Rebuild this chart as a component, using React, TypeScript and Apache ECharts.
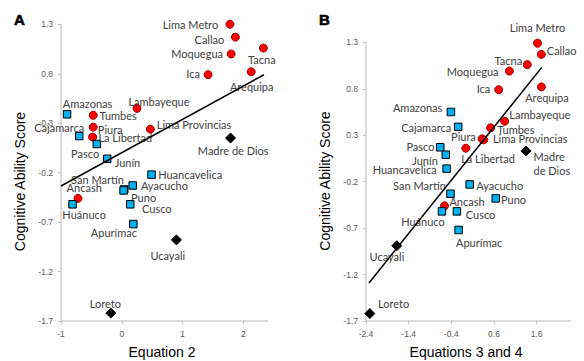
import React, { useEffect, useRef } from "react";
import * as echarts from "echarts";

// ---------- Panel A (Equation 2) ----------
const circleNamesA = ["Lima Metro", "Callao", "Moquegua", "Tacna", "Ica", "Arequipa", "Lambayeque", "Tumbes", "Piura", "La Libertad", "Lima Provincias", "Ancash"];
const circleXA = [1.78, 1.87, 1.8, 2.33, 1.42, 2.13, 0.25, -0.47, -0.47, -0.48, 0.47, -0.72];
const circleYA = [1.3, 1.17, 1.0, 1.06, 0.79, 0.82, 0.45, 0.38, 0.26, 0.16, 0.24, -0.46];

const squareNamesA = ["Amazonas", "Cajamarca", "Pasco", "Junín", "Huancavelica", "Ayacucho", "San Martín", "Puno", "Cusco", "Apurímac", "Huánuco"];
const squareXA = [-0.9, -0.7, -0.41, -0.24, 0.49, 0.18, 0.04, 0.03, 0.14, 0.19, -0.81];
const squareYA = [0.39, 0.17, 0.09, -0.06, -0.22, -0.33, -0.37, -0.38, -0.52, -0.72, -0.52];

const diamondNamesA = ["Madre de Dios", "Ucayali", "Loreto"];
const diamondXA = [1.79, 0.9, -0.18];
const diamondYA = [0.15, -0.88, -1.62];

const trendXA = [-1.0, 2.34];
const trendYA = [-0.335, 0.79];

// ---------- Panel B (Equations 3 and 4) ----------
const circleNamesB = ["Lima Metro", "Callao", "Tacna", "Moquegua", "Ica", "Arequipa", "Lambayeque", "Tumbes", "Piura", "Lima Provincias", "La Libertad", "Ancash"];
const circleXB = [1.62, 1.71, 1.38, 0.96, 0.71, 1.71, 0.85, 0.52, 0.32, 0.36, -0.06, -0.56];
const circleYB = [1.29, 1.17, 1.06, 0.99, 0.79, 0.82, 0.45, 0.38, 0.26, 0.25, 0.16, -0.46];

const squareNamesB = ["Amazonas", "Cajamarca", "Pasco", "Junín", "Huancavelica", "San Martín", "Ayacucho", "Puno", "Huánuco", "Cusco", "Apurímac"];
const squareXB = [-0.41, -0.24, -0.66, -0.53, -0.51, -0.42, 0.03, 0.64, -0.62, -0.27, -0.23];
const squareYB = [0.55, 0.39, 0.17, 0.09, -0.06, -0.33, -0.23, -0.38, -0.52, -0.52, -0.72];

const diamondNamesB = ["Madre de Dios", "Ucayali", "Loreto"];
const diamondXB = [1.35, -1.68, -2.31];
const diamondYB = [0.13, -0.89, -1.62];

const trendXB = [-2.33, 1.72];
const trendYB = [-1.29, 1.03];

// ---------- Tick labels ----------
const yTicks = [-1.7, -1.2, -0.7, -0.2, 0.3, 0.8, 1.3];
const xTicksA = [-1, 0, 1, 2];
const xTicksB = [-2.4, -1.4, -0.4, 0.6, 1.6];

// ---------- Label placement (pixel offsets from marker centre) ----------
const labelOffsetA: Record<string, [number, number]> = {
  "Lima Metro": [-39.5, 0], Callao: [-26, 2], Moquegua: [-34, 0], Tacna: [-1.5, 11], Ica: [-15, -1],
  Arequipa: [0.5, 15], Lambayeque: [22, -7], Tumbes: [25, 0.7], Piura: [17, 2.7], "La Libertad": [32.7, 0.6],
  "Lima Provincias": [43.7, -4.3], Ancash: [6.2, -10.4], Amazonas: [20.5, -10.6], Cajamarca: [-20, -8.6],
  Pasco: [-11.7, 9.7], "Junín": [20.3, 3.7], Huancavelica: [38.6, 0.3], Ayacucho: [31.7, 0.3],
  "San Martín": [-26.7, -9.5], Puno: [20, 7], Cusco: [26.5, 4.7], "Apurímac": [-19.4, 8], "Huánuco": [11.6, 10.7],
  "Madre de Dios": [2.7, 12.3], Ucayali: [-8.7, 15.4], Loreto: [-5.5, -9.7],
};
const labelOffsetB: Record<string, [number, number]> = {
  "Lima Metro": [0, -15.3], Callao: [20.3, -3.7], Tacna: [-18.9, -4.4], Moquegua: [-36.7, 0], Ica: [-15.2, -1.3],
  Arequipa: [5.6, 11], Lambayeque: [35.2, -6.7], Tumbes: [25.2, 1.3], Piura: [-18.6, -2.3],
  "Lima Provincias": [46.4, -1.1], "La Libertad": [22.2, 10.3], Ancash: [22.5, -4.3], Amazonas: [-33.3, -4.7],
  Cajamarca: [-32, 0.3], Pasco: [-19.8, -0.7], "Junín": [-20.8, 5.4], Huancavelica: [-42, 1],
  "San Martín": [-31, -8.4], Ayacucho: [30, 0.6], Puno: [17.8, 1], "Huánuco": [-19, 9.7], Cusco: [23.7, 2.7],
  "Apurímac": [20.5, 12.3], "Madre de Dios": [7.5, 13], Ucayali: [-9.8, 10.4], Loreto: [23.7, -10.3],
};

const LABEL_FONT = "Lato";
const AXIS_FONT = "Liberation Sans";

function points(names: string[], xs: number[], ys: number[], offsets: Record<string, [number, number]>, panel: string) {
  return names.map((n, i) => {
    const special = panel === "B" && n === "Madre de Dios";
    return {
      name: n,
      value: [xs[i], ys[i]],
      label: {
        offset: offsets[n] || [0, 0],
        formatter: special ? "Madre\nde Dios" : n,
        align: special ? "left" : "center",
      },
    };
  });
}

function scatter(name: string, gi: number, data: any[], symbol: string, size: number, color: string, border: string) {
  return {
    name,
    type: "scatter",
    xAxisIndex: gi,
    yAxisIndex: gi,
    symbol,
    symbolSize: size,
    itemStyle: { color, borderColor: border, borderWidth: 1, opacity: 1 },
    label: {
      show: true,
      position: "inside",
      color: "#404040",
      fontFamily: LABEL_FONT,
      fontSize: 11,
      lineHeight: 14,
      textBorderWidth: 0,
      verticalAlign: "middle",
    },
    emphasis: { disabled: true },
    data,
    z: 3,
  };
}

function trend(gi: number, xs: number[], ys: number[]) {
  return {
    type: "line",
    xAxisIndex: gi,
    yAxisIndex: gi,
    data: xs.map((x, i) => [x, ys[i]]),
    showSymbol: false,
    symbol: "none",
    lineStyle: { color: "#000", width: 1.5 },
    z: 5,
  };
}

function xAxis(gi: number, min: number, max: number, ticks: number[]) {
  return {
    type: "value",
    gridIndex: gi,
    min,
    max,
    axisLine: { show: true, onZero: false, lineStyle: { color: "#d0d0d0", width: 1.5 } },
    axisTick: { show: true, length: 3, lineStyle: { color: "#bfbfbf" }, customValues: ticks },
    axisLabel: { color: "#595959", fontSize: 8.5, fontFamily: AXIS_FONT, margin: 8, customValues: ticks },
    splitLine: { show: false },
  };
}

function yAxis(gi: number) {
  return {
    type: "value",
    gridIndex: gi,
    min: -1.7,
    max: 1.3,
    axisLine: { show: true, onZero: false, lineStyle: { color: "#d0d0d0", width: 1.5 } },
    axisTick: { show: true, length: 3, lineStyle: { color: "#bfbfbf" }, customValues: yTicks },
    axisLabel: { color: "#595959", fontSize: 8.5, fontFamily: AXIS_FONT, margin: 8, customValues: yTicks },
    splitLine: { show: false },
  };
}

export default function App() {
  const ref = useRef<HTMLDivElement>(null);
  useEffect(() => {
    if (!ref.current) return;
    const chart = echarts.init(ref.current, null, { renderer: "svg" });
    const titleStyle = { fill: "#000", font: `14px "${AXIS_FONT}"`, align: "center", verticalAlign: "middle" };
    chart.setOption({
      animation: false,
      backgroundColor: "#fff",
      grid: [
        { left: 61, top: 24.3, width: 206.6, height: 296.7 },
        { left: 366, top: 42.3, width: 204.8, height: 278.7 },
      ],
      xAxis: [xAxis(0, -1, 2.4, xTicksA), xAxis(1, -2.4, 2.4, xTicksB)],
      yAxis: [yAxis(0), yAxis(1)],
      series: [
        scatter("circlesA", 0, points(circleNamesA, circleXA, circleYA, labelOffsetA, "A"), "circle", 8, "#ff0000", "#a00000"),
        scatter("squaresA", 0, points(squareNamesA, squareXA, squareYA, labelOffsetA, "A"), "rect", 7.5, "#00b0f0", "#000"),
        scatter("diamondsA", 0, points(diamondNamesA, diamondXA, diamondYA, labelOffsetA, "A"), "diamond", 10, "#000", "#000"),
        trend(0, trendXA, trendYA),
        scatter("circlesB", 1, points(circleNamesB, circleXB, circleYB, labelOffsetB, "B"), "circle", 8, "#ff0000", "#a00000"),
        scatter("squaresB", 1, points(squareNamesB, squareXB, squareYB, labelOffsetB, "B"), "rect", 7.5, "#00b0f0", "#000"),
        scatter("diamondsB", 1, points(diamondNamesB, diamondXB, diamondYB, labelOffsetB, "B"), "diamond", 10, "#000", "#000"),
        trend(1, trendXB, trendYB),
      ],
      graphic: [
        { type: "text", x: 14, y: 19.5, style: { text: "A", fill: "#000", font: `900 15px "${AXIS_FONT}"`, verticalAlign: "middle", stroke: "#000", lineWidth: 0.6 } },
        { type: "text", x: 319, y: 19.5, style: { text: "B", fill: "#000", font: `900 15px "${AXIS_FONT}"`, verticalAlign: "middle", stroke: "#000", lineWidth: 0.6 } },
        { type: "text", x: 20, y: 181.5, rotation: Math.PI / 2, style: { ...titleStyle, text: "Cognitive Ability Score" } },
        { type: "text", x: 325, y: 181, rotation: Math.PI / 2, style: { ...titleStyle, text: "Cognitive Ability Score" } },
        { type: "text", x: 162, y: 352, style: { ...titleStyle, text: "Equation 2" } },
        { type: "text", x: 466, y: 352, style: { ...titleStyle, text: "Equations 3 and 4" } },
      ],
    });
    return () => chart.dispose();
  }, []);
  return <div ref={ref} style={{ position: "absolute", left: 0, top: 0, width: 584, height: 361 }} />;
}
